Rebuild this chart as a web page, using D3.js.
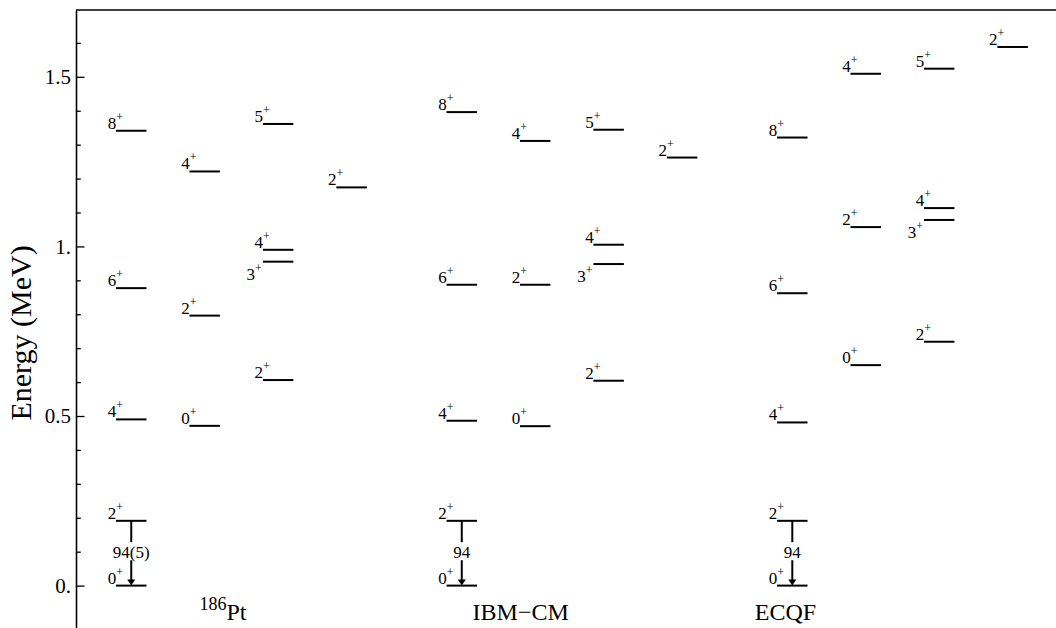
<!DOCTYPE html>
<html>
<head>
<meta charset="utf-8">
<script src="https://cdn.jsdelivr.net/npm/d3@7"></script>
<style>
  html, body { margin: 0; padding: 0; background: #fff; }
  svg { display: block; font-family: "Liberation Serif", "Times New Roman", serif; }
</style>
</head>
<body>
<svg id="chart" width="1056" height="628"></svg>
<script>
// Level schemes: each scheme has 4 columns (ground band, beta band, gamma band, extra 2+)
const schemeNames = ["186Pt", "IBM\u2212CM", "ECQF"];
const levelSpins   = ["0", "2", "4", "6", "8", "0", "2", "4", "2", "3", "4", "5", "2"];
const levelColumns = [0, 0, 0, 0, 0, 1, 1, 1, 2, 2, 2, 2, 3];

// Excitation energies (MeV), same order as levelSpins
const exptEnergies = [0, 0.191, 0.490, 0.877, 1.341, 0.471, 0.796, 1.221, 0.606, 0.955, 0.990, 1.361, 1.174];
const ibmEnergies  = [0, 0.191, 0.486, 0.887, 1.396, 0.470, 0.887, 1.311, 0.604, 0.948, 1.005, 1.344, 1.262];
const ecqfEnergies = [0, 0.191, 0.481, 0.862, 1.321, 0.650, 1.057, 1.509, 0.719, 1.078, 1.113, 1.524, 1.588];

// B(E2; 2+ -> 0+) labels on the ground-band arrow
const transitionLabels = ["94(5)", "94", "94"];

// Axis ticks
const majorTicks = [0, 0.5, 1.0, 1.5];
const majorTickLabels = ["0.", "0.5", "1.", "1.5"];
const minorTicks = [0.1, 0.2, 0.3, 0.4, 0.6, 0.7, 0.8, 0.9, 1.1, 1.2, 1.3, 1.4, 1.6];

const schemes = [exptEnergies, ibmEnergies, ecqfEnergies];

const svg = d3.select("#chart");
const W = 1056, H = 628;
const plotLeft = 76, plotTop = 10;

// x in column units: scheme g, column c -> g*4.5 + c
const x = d3.scaleLinear().domain([0, 12]).range([116, 116 + 73.45 * 12]);
const y = d3.scaleLinear().domain([-0.125, 1.697]).range([H, plotTop]);
const levelWidth = 0.415;   // in column units

// frame: left axis + top border
svg.append("line")
  .attr("x1", plotLeft).attr("x2", W + 10).attr("y1", plotTop).attr("y2", plotTop)
  .attr("stroke", "#000").attr("stroke-width", 1.6);

const yAxis = d3.axisLeft(y)
  .tickValues(majorTicks)
  .tickSizeInner(-8.5).tickSizeOuter(0).tickPadding(5)
  .tickFormat((d, i) => majorTickLabels[i]);
const gAxis = svg.append("g").attr("transform", `translate(${plotLeft},0)`).call(yAxis);
gAxis.attr("font-family", "Liberation Serif, serif");
gAxis.select(".domain").attr("stroke-width", 1.6);
gAxis.selectAll(".tick line").attr("stroke-width", 1.3);
gAxis.selectAll(".tick text")
  .attr("font-size", 21).attr("fill", "#000");

const yMinor = d3.axisLeft(y).tickValues(minorTicks).tickSizeInner(-4.8).tickSizeOuter(0).tickFormat("");
const gMinor = svg.append("g").attr("transform", `translate(${plotLeft},0)`).call(yMinor);
gMinor.select(".domain").remove();
gMinor.selectAll(".tick line").attr("stroke-width", 1.3);

// y axis title
svg.append("text")
  .attr("transform", `translate(31,${y(0.745)}) rotate(-90)`)
  .attr("text-anchor", "middle")
  .attr("font-size", 30)
  .text("Energy (MeV)");

// levels
schemes.forEach((energies, g) => {
  const levels = energies.map((e, i) => ({
    e, spin: levelSpins[i], col: levelColumns[i], pos: g * 4.5 + levelColumns[i]
  }));
  const grp = svg.append("g");

  grp.selectAll("line.level").data(levels).join("line")
    .attr("class", "level")
    .attr("x1", d => x(d.pos)).attr("x2", d => x(d.pos + levelWidth))
    .attr("y1", d => y(d.e)).attr("y2", d => y(d.e))
    .attr("stroke", "#000").attr("stroke-width", 2);

  // label goes below the line when another level in the same column sits just above
  levels.forEach(d => {
    d.below = levels.some(o => o !== d && o.col === d.col && o.e > d.e && o.e - d.e < 0.07);
  });

  const labels = grp.selectAll("text.spin").data(levels).join("text")
    .attr("class", "spin")
    .attr("text-anchor", "end")
    .attr("font-size", 17)
    .attr("x", d => d.below ? x(d.pos) - 1 : x(d.pos) + 7)
    .attr("y", d => d.below ? y(d.e) + 18 : y(d.e) - 2);
  labels.append("tspan").text(d => d.spin);
  labels.append("tspan").attr("font-size", 12).attr("dy", -8).text("+");

  // 2+ -> 0+ transition arrow
  const xc = x(g * 4.5 + levelWidth / 2);
  const yTop = y(energies[1]), yBot = y(energies[0]);
  const yMid = (yTop + yBot) / 2;
  grp.append("line").attr("x1", xc).attr("x2", xc).attr("y1", yTop).attr("y2", yMid - 11)
    .attr("stroke", "#000").attr("stroke-width", 2);
  grp.append("line").attr("x1", xc).attr("x2", xc).attr("y1", yMid + 7).attr("y2", yBot - 5)
    .attr("stroke", "#000").attr("stroke-width", 2);
  grp.append("path")
    .attr("d", `M${xc - 4},${yBot - 6} L${xc + 4},${yBot - 6} L${xc},${yBot} Z`)
    .attr("fill", "#000");
  grp.append("text")
    .attr("x", xc).attr("y", yMid + 5)
    .attr("text-anchor", "middle").attr("font-size", 17)
    .text(transitionLabels[g]);
});

// scheme names
const nameX = [1.457, 5.51, 9.115];
const names = svg.selectAll("text.scheme").data(schemeNames).join("text")
  .attr("class", "scheme")
  .attr("text-anchor", "middle")
  .attr("x", (d, i) => x(nameX[i]))
  .attr("y", 620)
  .attr("font-size", 24);
names.each(function(d) {
  const t = d3.select(this);
  const m = d.match(/^(\d+)(.*)$/);
  if (m) {
    t.append("tspan").attr("font-size", 18).attr("dy", -10).text(m[1]);
    t.append("tspan").attr("dy", 10).text(m[2]);
  } else {
    t.text(d);
  }
});
</script>
</body>
</html>
